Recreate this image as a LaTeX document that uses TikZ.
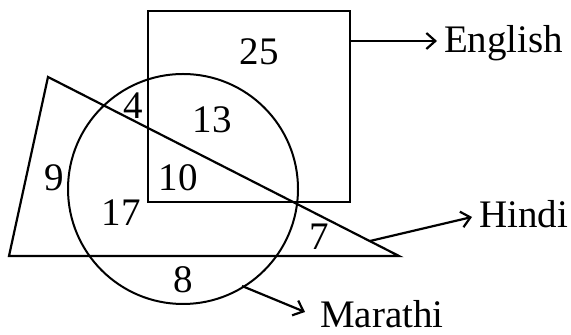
\documentclass[tikz,border=0pt]{standalone}
\usepackage{fontspec}
\setmainfont{Liberation Serif}
\usetikzlibrary{arrows.meta}
\begin{document}
\begin{tikzpicture}[x=0.5pt,y=0.5pt,line width=1.1pt,
    cnt/.style={font=\fontsize{19.5}{22}\selectfont,inner sep=0pt},
    setlbl/.style={cnt,anchor=base west},
    pointer/.style={-{Straight Barb[length=4.5pt,width=8pt]}}]
  \useasboundingbox (0,0) rectangle (571,335);
  % the three sets
  \draw (148,133) rectangle (350,324);
  \draw (48,258) -- (9,79) -- (399,79) -- cycle;
  \draw[line width=1pt] (183,146) circle[radius=115];
  % counts
  \node[cnt] (c25) at (259,283) {25};
  \node[cnt] (c4) at (133,229) {4};
  \node[cnt] (c13) at (212,215) {13};
  \node[cnt] (c9) at (54,157) {9};
  \node[cnt] (c10) at (178,157) {10};
  \node[cnt] (c17) at (121,122) {17};
  \node[cnt] (c8) at (183,55) {8};
  \node[cnt] (c7) at (319,98) {7};
  % set names
  \node[setlbl] (eng) at (443,282) {English};
  \node[setlbl] (hin) at (478,107) {Hindi};
  \node[setlbl] (mar) at (319,7) {Marathi};
  \coordinate (engfoot) at (350,294);
  \coordinate (hinfoot) at (370,94);
  \coordinate (marfoot) at (242,49);
  \draw[pointer] (engfoot) -- ([shift={(-6,12)}]eng.base west);
  \draw[pointer] (hinfoot) -- ([shift={(-6,11)}]hin.base west);
  \draw[pointer] (marfoot) -- ([shift={(-14,16)}]mar.base west);
\end{tikzpicture}
\end{document}
